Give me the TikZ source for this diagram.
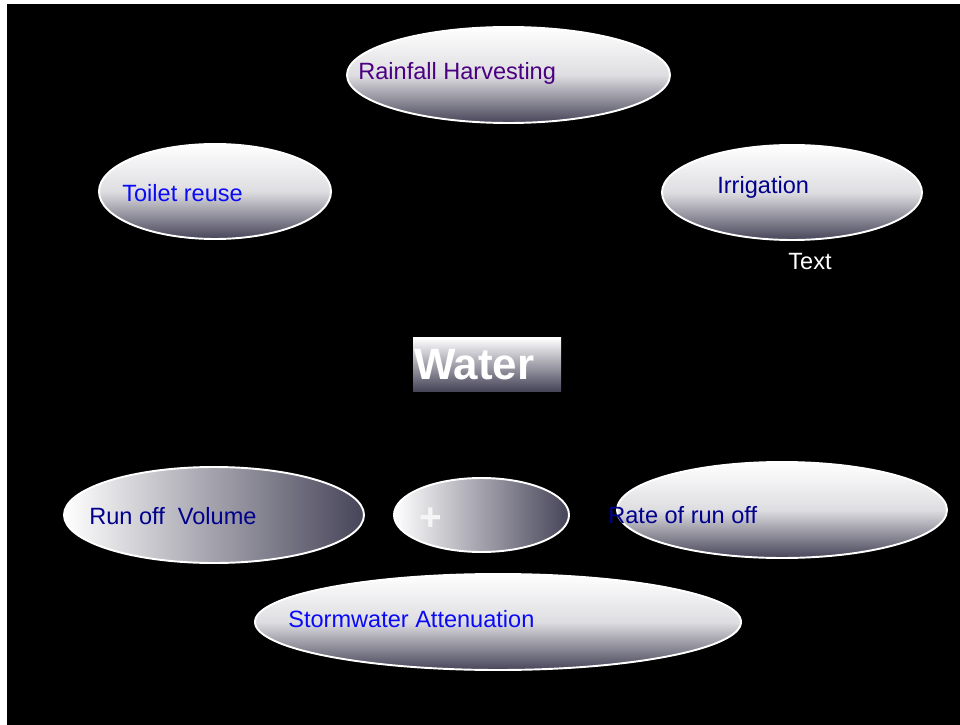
\documentclass[tikz,border=0pt]{standalone}
\usepackage{fontspec}
\setmainfont{Liberation Sans}
\usepackage{tikz}
\usetikzlibrary{shapes.geometric, positioning}
\usepackage{xcolor}
\definecolor{shadedark}{RGB}{70,68,88}
\definecolor{labelindigo}{RGB}{75,0,130}
\definecolor{labelblue}{RGB}{10,10,245}
\definecolor{labelnavy}{RGB}{0,0,140}

\begin{document}
\begin{tikzpicture}[
    bubble/.style={ellipse, draw=white, line width=1.1pt, inner sep=0pt, top color=white, bottom color=shadedark, middle color=white!82!shadedark},
    sidebubble/.style={ellipse, draw=white, line width=1.1pt, inner sep=0pt, left color=white, right color=shadedark},
    waterbox/.style={rectangle, top color=white, bottom color=shadedark, minimum height=1.06cm, text width=2.92cm, inner xsep=0.02cm, inner ysep=0pt, align=left, text=white, font=\fontsize{25}{28}\selectfont\bfseries},
    lbl/.style={anchor=west, inner sep=0pt, font=\fontsize{13.4}{16}\selectfont}]
\useasboundingbox (0,0) rectangle (19.2,-14.5);
\fill[black] (0.14,-0.08) rectangle (19.2,-14.5);
% top row
\node[bubble, minimum width=6.46cm, minimum height=1.92cm] (rain) at (10.17,-1.50) {};
\node[lbl, text=labelindigo] (rainlbl) at (7.16,-1.47) {Rainfall Harvesting};
\node[bubble, minimum width=4.64cm, minimum height=1.90cm] (toilet) at (4.30,-3.83) {};
\node[lbl, text=labelblue] (toiletlbl) at (2.44,-3.87) {Toilet reuse};
\node[bubble, minimum width=5.20cm, minimum height=1.90cm] (irrig) at (15.84,-3.85) {};
\node[lbl, text=labelnavy] (irriglbl) at (14.34,-3.75) {Irrigation};
\node[lbl, anchor=center, text=white] (textlbl) at (16.20,-5.24) {Text};
% centre
\node[waterbox] (water) at (9.74,-7.29) {\raisebox{-0.5pt}{Water}};
% bottom row
\node[sidebubble, minimum width=6.00cm, minimum height=1.92cm] (runoff) at (4.28,-10.30) {};
\node[lbl, text=labelnavy] (runofflbl) at (1.78,-10.33) {Run off\ \ Volume};
\node[sidebubble, minimum width=3.50cm, minimum height=1.48cm] (plus) at (9.63,-10.30) {};
\node[lbl, anchor=center, text=white!92!gray, font=\fontsize{22}{26}\selectfont\bfseries] (pluslbl) at (8.62,-10.38) {+};
\node[bubble, minimum width=6.60cm, minimum height=1.92cm] (rate) at (15.64,-10.20) {};
\node[lbl, text=labelnavy] (ratelbl) at (12.16,-10.31) {Rate of run off};
\node[bubble, minimum width=9.72cm, minimum height=1.92cm] (storm) at (9.96,-12.44) {};
\node[lbl, text=labelblue] (stormlbl) at (5.76,-12.39) {Stormwater Attenuation};
\end{tikzpicture}
\end{document}
